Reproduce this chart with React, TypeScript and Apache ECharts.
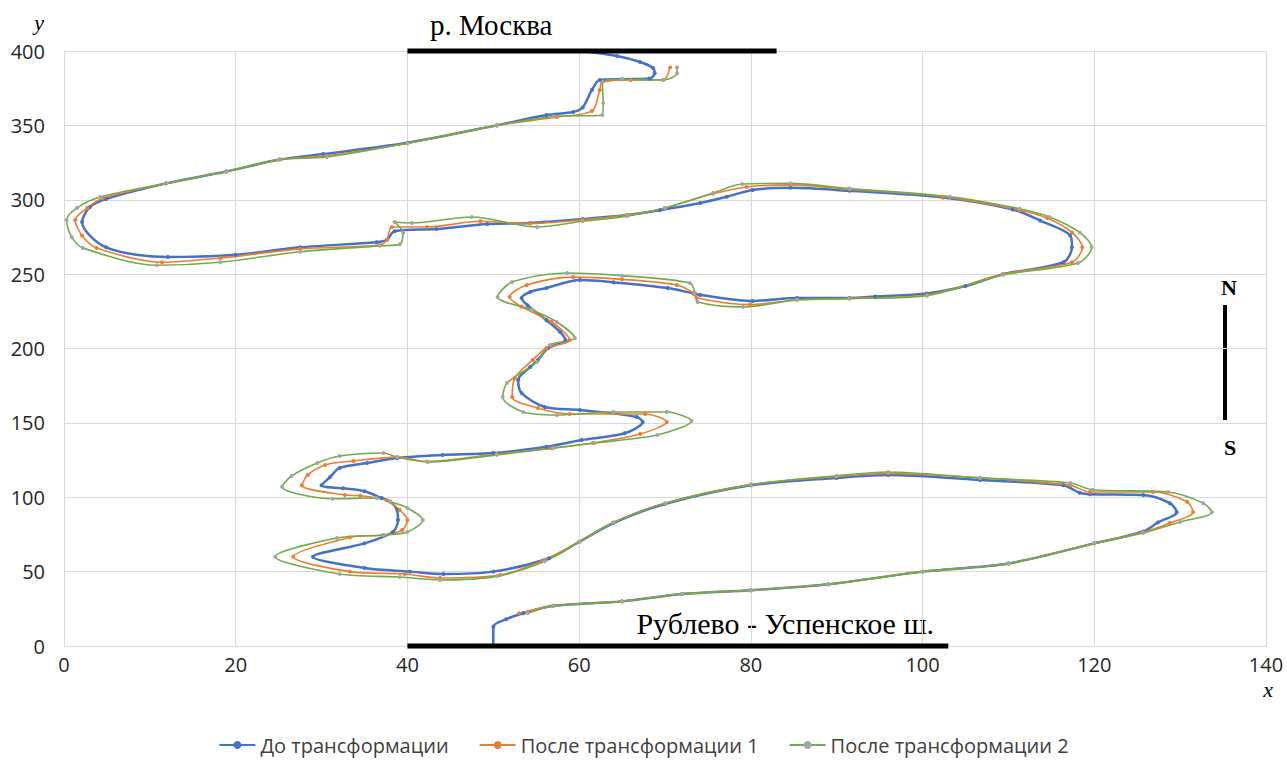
import React, { useEffect, useRef } from "react";
import * as echarts from "echarts";

const seriesNames = ["До трансформации", "После трансформации 1", "После трансформации 2"];
const xTicks = { min: 0, max: 140, interval: 20 };
const yTicks = { min: 0, max: 400, interval: 50 };

const routeBefore: number[][] = [
  [50, 0], [50, 13], [51.5, 18], [53.5, 22], [57, 27], [65, 30], [72, 35], [80, 37.5], [89, 41.5], [100, 50],
  [110, 55.5], [120, 69], [125.7, 77], [127.4, 83], [129.6, 90], [128.8, 96], [125.7, 101.5], [119.5, 102],
  [118.3, 103], [116.4, 108], [106.7, 111.6], [96, 115], [90, 113], [80, 108], [70, 95.5], [64, 82.7], [60, 70],
  [56.5, 59], [50, 50], [44.2, 48.4], [40.3, 50], [35, 52.4], [29, 60], [35, 69], [38.3, 76.6], [38.9, 84.7],
  [38.8, 91.4], [38, 97], [37, 99.5], [35, 104], [32.5, 106], [30, 108], [31, 113.6], [32.1, 119.7], [35.3, 123],
  [38.8, 126.4], [44.1, 128.4], [50, 129.7], [56.2, 134], [60.3, 138.5], [65.3, 143], [67.4, 150.6], [66.7, 154],
  [60.1, 158.7], [56, 160.7], [53.3, 170], [52.9, 178.8], [54.3, 187.6], [55.2, 192.3], [56.4, 200.3], [58.4, 205.7],
  [57.8, 211], [56.2, 219], [54, 229], [53.3, 234], [54.3, 238], [56.2, 240.7], [60.1, 246], [64, 244.5],
  [70.3, 240.7], [73.3, 237], [74.1, 236], [80.2, 232], [85.4, 234], [91.5, 234], [94.5, 235], [100.5, 237],
  [105, 242], [109.4, 250], [116.4, 258], [117.4, 268], [117.2, 276], [113.7, 286], [110.5, 293.5], [102.4, 301.5],
  [91.5, 306], [84.6, 308], [80.2, 306.6], [77.2, 302], [74.1, 297.8], [69.4, 293], [65.6, 289.7], [60.4, 287],
  [54.3, 284.4], [49.3, 283.7], [43.4, 280.3], [38.5, 278.8], [37.6, 273], [36.4, 271.5], [27.5, 268], [20, 263],
  [12.1, 261.5], [4.9, 268], [2.1, 285], [3, 295], [4.9, 300.5], [11.9, 311], [18.9, 319], [25.1, 327],
  [30.2, 330.7], [40, 338.3], [50.4, 350], [56.2, 357], [59.3, 359], [60.4, 362], [61.5, 374], [62.4, 380.5],
  [65, 381], [68.2, 381.5], [68.8, 385], [68.6, 388.6], [67.1, 392.6], [64.4, 396.6], [60.3, 400],
];

const routeAfter1: number[][] = [
  [53, 22], [57, 27], [65, 30], [72, 35], [80, 37.5], [89, 41.5], [100, 50], [110, 55.5], [120, 69], [125.7, 76.5],
  [128.8, 82.7], [131.5, 90], [130.8, 97], [126.8, 103.5], [119.5, 103.5], [117.2, 108], [106.7, 113], [96, 116],
  [90, 114], [80, 108.5], [70, 96], [64, 83], [60, 70], [56, 58], [50.8, 47.7], [43.8, 45.7], [39.7, 48.4],
  [33.3, 50], [26.7, 60], [33.3, 73], [37.2, 74.6], [39.4, 78], [40, 84.7], [39.1, 91.4], [37.6, 98], [34.5, 101],
  [32.7, 101.5], [27.7, 108], [28.4, 115], [30.4, 121.7], [33.7, 124.4], [38.8, 127], [42.3, 124], [50.4, 129],
  [56.8, 133], [61.6, 136.5], [67.1, 142.5], [70.2, 150.6], [67.7, 156], [58.9, 156], [55.2, 160], [52.2, 167.4],
  [52.5, 180], [54.6, 192.3], [56.2, 200.3], [58.9, 205.7], [56.8, 217.8], [53.3, 228], [51.9, 234.6], [53.9, 242.7],
  [59.3, 248], [65, 246.5], [71.4, 242.7], [73.3, 237.3], [73.7, 234], [79.9, 229.5], [85.4, 232.8], [91.5, 233.8],
  [100.5, 236], [109.4, 250], [117.4, 258], [118.6, 268], [117.4, 278], [114.5, 287.7], [111.3, 293], [102.4, 302],
  [91.5, 307], [84.6, 310], [79.5, 308.6], [75.6, 304], [70, 294.5], [65.6, 289.7], [60.4, 286.5], [54.3, 284],
  [48.5, 285.5], [42.3, 281.7], [38.2, 281.7], [37.6, 273], [36.8, 269.6], [27.5, 267], [18.2, 260.8], [11.4, 258],
  [3.8, 267.6], [2.1, 276], [1.3, 286.4], [2.7, 294.4], [4.5, 301], [11.9, 311], [18.9, 319], [25.1, 327],
  [30.5, 329.5], [40, 338], [50.4, 350], [57.4, 355.6], [61.5, 359.7], [62.4, 373.8], [62.7, 379], [66, 380.5],
  [69.8, 380.5], [70.6, 389],
];

const routeAfter2: number[][] = [
  [54, 22], [57, 27], [65, 30], [72, 35], [80, 37.5], [89, 41.5], [100, 50], [110, 55.5], [120, 69], [125.7, 76],
  [130, 83.4], [133.7, 90], [132.7, 96], [128.6, 103.5], [119.8, 105], [117.2, 109.6], [106.7, 113], [96, 117],
  [90, 114.5], [80, 108.5], [70, 96], [64, 83], [60, 70], [56, 57], [50.5, 47], [43.8, 44.4], [39.1, 46.4],
  [32.1, 48.4], [24.6, 60], [31.8, 72.6], [37.2, 74.6], [40, 76.6], [41.8, 84.7], [40, 92.8], [38, 97], [36.4, 99.5],
  [31.3, 99], [25.4, 107], [26.5, 114.3], [29.5, 123], [32.1, 127.7], [37.2, 129.7], [38.8, 127], [42.4, 123.7],
  [50.4, 128.5], [57, 133], [61.8, 136.5], [69.1, 141.8], [73.1, 151.3], [70.2, 157.3], [64, 157.3], [57.4, 155.3],
  [53.5, 157.3], [51.1, 167.4], [51.6, 176.8], [55.1, 191], [56.6, 202.4], [59.5, 207], [57.4, 217.8], [54.5, 225.9],
  [50.5, 234.6], [52.2, 244.7], [58.6, 250.8], [65, 249], [72.9, 244], [73.5, 237.3], [73.8, 231.3], [79.1, 228],
  [85.4, 232.6], [91.5, 233.5], [100.5, 235.5], [109.4, 249.5], [118.1, 257.5], [119.7, 268], [118.3, 278],
  [114.8, 288.4], [111.3, 294], [103.2, 302], [91.5, 307.5], [84.6, 311], [79, 310.6], [75.6, 304.5], [70, 294.5],
  [65.6, 289], [60.4, 285.5], [55.1, 281.7], [47.5, 288.4], [40.5, 284.4], [38.5, 285], [39.5, 277.6], [39.1, 270],
  [36.8, 269], [27.5, 265], [18.2, 258], [10.8, 256], [2.2, 267.6], [0.9, 275], [0.3, 286.4], [1.5, 294.4],
  [4.2, 301.8], [11.9, 311], [18.9, 319], [25.1, 327], [30.6, 328.7], [40, 338], [50.4, 350], [57, 356],
  [62.7, 357], [62.8, 365], [62.7, 379], [65, 381], [69.8, 380.5], [71.4, 385], [71.4, 389],
];

const riverLine: number[][] = [[40, 400], [83, 400]];
const roadLine: number[][] = [[40, 0], [103, 0]];
const riverLabel = "р. Москва";
const roadLabel = "Рублево - Успенское ш.";

export default function App() {
  const ref = useRef<HTMLDivElement>(null);
  useEffect(() => {
    if (!ref.current) return;
    const chart = echarts.init(ref.current, undefined, { renderer: "svg" });
    const lineSeries = (name: string, data: number[][], lineColor: string, dotColor: string, width: number) => ({
      name,
      type: "line",
      data,
      smooth: 0.3,
      symbol: "circle",
      symbolSize: 4,
      showSymbol: true,
      lineStyle: { color: lineColor, width },
      itemStyle: { color: dotColor },
      emphasis: { disabled: true },
    });
    chart.setOption({
      animation: false,
      backgroundColor: "#ffffff",
      grid: { left: 64, right: 21, top: 51, bottom: 118, containLabel: false },
      xAxis: {
        type: "value",
        min: xTicks.min,
        max: xTicks.max,
        interval: xTicks.interval,
        axisLine: { show: true, lineStyle: { color: "#d9d9d9" } },
        axisTick: { show: false },
        splitLine: { show: true, lineStyle: { color: "#d9d9d9", width: 1 } },
        axisLabel: { color: "#262626", fontSize: 20, fontFamily: "Open Sans", margin: 8 },
      },
      yAxis: {
        type: "value",
        min: yTicks.min,
        max: yTicks.max,
        interval: yTicks.interval,
        axisLine: { show: true, lineStyle: { color: "#d9d9d9" } },
        axisTick: { show: false },
        splitLine: { show: true, lineStyle: { color: "#d9d9d9", width: 1 } },
        axisLabel: { color: "#262626", fontSize: 20, fontFamily: "Open Sans", margin: 19 },
      },
      legend: {
        data: seriesNames,
        bottom: 4,
        left: "center",
        itemWidth: 36,
        itemHeight: 10,
        itemGap: 30,
        textStyle: { color: "#404040", fontSize: 20, fontFamily: "Open Sans" },
      },
      series: [
        lineSeries(seriesNames[0], routeBefore, "#4472C4", "#4472C4", 2.5),
        lineSeries(seriesNames[1], routeAfter1, "#ED7D31", "#ED7D31", 1.6),
        lineSeries(seriesNames[2], routeAfter2, "#70AD47", "#A5A5A5", 1.6),
        {
          name: "river",
          type: "line",
          data: riverLine,
          symbol: "none",
          clip: false,
          lineStyle: { color: "#000", width: 5 },
          z: 5,
        },
        {
          name: "road",
          type: "line",
          data: roadLine,
          symbol: "none",
          clip: false,
          lineStyle: { color: "#000", width: 5 },
          z: 5,
        },
      ],
      graphic: [
        { type: "text", x: 430, y: 10, style: { text: riverLabel, font: '29px "Liberation Serif"', fill: "#000" } },
        { type: "text", x: 934, y: 608, style: { text: roadLabel, font: '30px "Liberation Serif"', fill: "#000", align: "right" } },
        { type: "text", x: 1229, y: 287, style: { text: "N", font: 'bold 22px "Liberation Serif"', fill: "#000", align: "center", verticalAlign: "middle" } },
        { type: "line", shape: { x1: 1225, y1: 305, x2: 1225, y2: 420 }, style: { stroke: "#000", lineWidth: 4 } },
        { type: "text", x: 1230, y: 447, style: { text: "S", font: 'bold 22px "Liberation Serif"', fill: "#000", align: "center", verticalAlign: "middle" } },
        { type: "text", x: 39, y: 22, style: { text: "y", font: 'italic 22px "Liberation Serif"', fill: "#000", align: "center", verticalAlign: "middle" } },
        { type: "text", x: 1268, y: 689, style: { text: "x", font: 'italic 22px "Liberation Serif"', fill: "#000", align: "center", verticalAlign: "middle" } },
      ],
    });
    return () => chart.dispose();
  }, []);
  return <div ref={ref} style={{ position: "fixed", left: 0, top: 0, width: 1287, height: 764, background: "#fff" }} />;
}
